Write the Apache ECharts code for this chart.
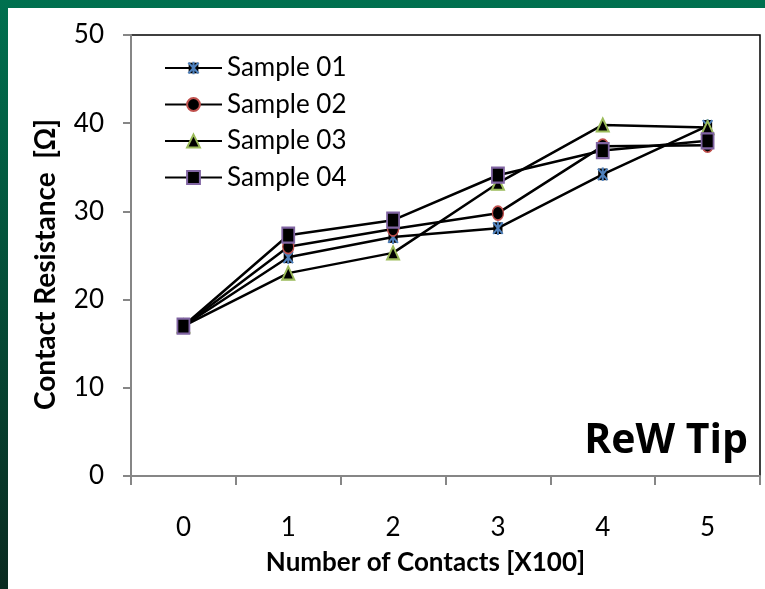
<!DOCTYPE html>
<html>
<head>
<meta charset="utf-8">
<script src="https://cdn.jsdelivr.net/npm/echarts@6/dist/echarts.min.js"></script>
<style>
  html, body { margin: 0; padding: 0; }
  body {
    width: 765px; height: 589px; position: relative; overflow: hidden;
    background: linear-gradient(to bottom, #00704f, #0a2a20);
  }
  #chart {
    position: absolute; left: 8px; top: 8px;
    width: 757px; height: 581px; background: #fff;
  }
</style>
</head>
<body>
<div id="chart"></div>
<script>
  // values
  const categories = ['0', '1', '2', '3', '4', '5']
  const sample01 = [17.0, 24.8, 27.1, 28.1, 34.2, 39.7]
  const sample02 = [17.0, 26.0, 28.0, 29.8, 37.4, 37.5]
  const sample03 = [17.0, 23.0, 25.3, 33.2, 39.8, 39.5]
  const sample04 = [17.0, 27.3, 29.0, 34.1, 36.9, 38.0]

  const font = 'Lato, "Noto Sans", sans-serif'

  // black box with blue asterisk, like the excel marker
  const starSvg = "<svg xmlns='http://www.w3.org/2000/svg' width='20' height='24' viewBox='0 0 10 12'>" +
    "<rect x='1.2' y='1' width='7.6' height='10' fill='#000'/>" +
    "<path d='M1 1L9 11M9 1L1 11M5 0V12' stroke='#4f81bd' stroke-width='1.7'/></svg>"
  const starIcon = 'image://data:image/svg+xml;charset=utf-8,' + encodeURIComponent(starSvg)

  const lineSeries = (name, data, extra) => Object.assign({
    name: name,
    type: 'line',
    data: data,
    symbolSize: [11, 13],
    lineStyle: { color: '#000', width: 2.5 },
    itemStyle: { color: '#000' },
    emphasis: { disabled: true },
    animation: false
  }, extra)

  const chart = echarts.init(document.getElementById('chart'))
  chart.setOption({
    textStyle: { fontFamily: font },
    grid: {
      left: 123, top: 27, width: 629, height: 441,
      show: true, borderColor: '#000', borderWidth: 1.5, backgroundColor: 'transparent'
    },
    title: {
      text: 'ReW Tip',
      right: 12, top: 408,
      textStyle: { fontFamily: '"Open Sans", sans-serif', fontSize: 41, fontWeight: 'bold', color: '#000' }
    },
    legend: {
      orient: 'vertical',
      left: 151, top: 42,
      itemWidth: 57, itemHeight: 16, itemGap: 10.5,
      textStyle: { fontFamily: font, fontSize: 26, lineHeight: 26, color: '#000' },
      data: ['Sample 01', 'Sample 02', 'Sample 03', 'Sample 04']
    },
    xAxis: {
      type: 'category',
      data: categories,
      boundaryGap: true,
      name: 'Number of Contacts [X100]',
      nameLocation: 'middle',
      nameGap: 74,
      nameTextStyle: { fontFamily: font, fontSize: 26, fontWeight: 'bold', color: '#000', padding: [0, 40, 0, 0] },
      axisLine: { lineStyle: { color: '#868686', width: 2 } },
      axisTick: { show: true, length: 9, inside: false, lineStyle: { color: '#868686', width: 2 } },
      axisLabel: { margin: 39, fontSize: 26, color: '#000', fontFamily: font },
      splitLine: { show: false }
    },
    yAxis: {
      type: 'value',
      min: 0, max: 50, interval: 10,
      name: 'Contact Resistance  [Ω]',
      nameLocation: 'middle',
      nameGap: 71,
      nameTextStyle: { fontFamily: font, fontSize: 28, fontWeight: 'bold', color: '#000', padding: [0, 18, 0, 0] },
      axisLine: { show: true, lineStyle: { color: '#868686', width: 2 } },
      axisTick: { show: true, length: 8, lineStyle: { color: '#868686', width: 2 } },
      axisLabel: { margin: 27, fontSize: 26, color: '#000', fontFamily: font },
      splitLine: { show: false }
    },
    series: [
      lineSeries('Sample 01', sample01, { symbol: starIcon, symbolSize: [12, 14] }),
      lineSeries('Sample 02', sample02, {
        symbol: 'circle', symbolSize: [11, 14],
        itemStyle: { color: '#000', borderColor: '#c0504d', borderWidth: 1.5 }
      }),
      lineSeries('Sample 03', sample03, {
        symbol: 'triangle', symbolSize: [12, 13],
        itemStyle: { color: '#000', borderColor: '#9bbb59', borderWidth: 2 }
      }),
      lineSeries('Sample 04', sample04, {
        symbol: 'rect', symbolSize: [12, 15],
        itemStyle: { color: '#000', borderColor: '#8064a2', borderWidth: 2 }
      })
    ]
  })
</script>
</body>
</html>
